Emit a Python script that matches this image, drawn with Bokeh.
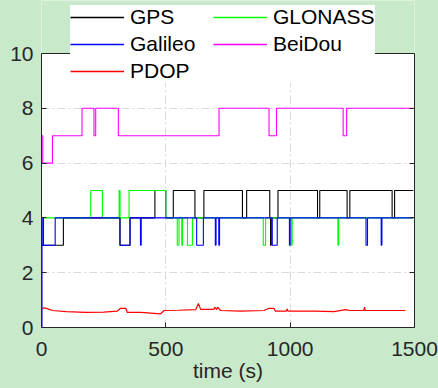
from bokeh.plotting import figure
from bokeh.models import (Legend, LegendItem, LinearAxis, FixedTicker, Range1d,
                          BoxAnnotation, Span)
from bokeh.embed import file_html
from bokeh.resources import INLINE

# ---- data ----
gps_t = [0, 88, 316, 356, 456, 500, 530, 617, 653, 808, 825, 918, 921, 924, 951, 1110, 1119, 1229, 1240, 1410, 1420, 1495]
gps_v = [3, 4, 3, 4, 5, 4, 5, 4, 5, 4, 5, 4, 3, 4, 5, 4, 5, 4, 5, 4, 5, 5]

glonass_t = [0, 198, 245, 312, 316, 352, 500, 546, 553, 564, 567, 587, 607, 892, 901, 1005, 1008, 1192, 1195, 1495]
glonass_v = [4, 5, 4, 5, 4, 5, 4, 3, 4, 3, 4, 3, 4, 3, 4, 3, 4, 3, 4, 4]

galileo_t = [0, 2, 5, 8, 55, 315, 356, 398, 401, 624, 651, 699, 702, 713, 716, 928, 948, 997, 1000, 1305, 1311, 1366, 1369, 1495]
galileo_v = [0, 3, 4, 3, 4, 3, 4, 3, 4, 3, 4, 3, 4, 3, 4, 3, 4, 3, 4, 3, 4, 3, 4, 4]

beidou_t = [0, 5, 44, 163, 211, 218, 309, 714, 915, 945, 1213, 1227, 1495]
beidou_v = [7, 6, 7, 8, 7, 8, 7, 8, 7, 8, 7, 8, 8]

pdop_t = [3, 10, 20, 44, 100, 178, 250, 305, 318, 339, 345, 400, 479, 493, 550, 620, 631, 640,
          693, 697, 704, 708, 720, 800, 895, 915, 935, 940, 985, 988, 991, 1100, 1176, 1223,
          1240, 1296, 1299, 1302, 1400, 1464]
pdop_v = [0.68, 0.72, 0.70, 0.62, 0.58, 0.55, 0.56, 0.60, 0.70, 0.70, 0.55, 0.55, 0.50, 0.62,
          0.63, 0.65, 0.88, 0.66, 0.66, 0.74, 0.66, 0.74, 0.62, 0.60, 0.62, 0.70, 0.70, 0.60,
          0.60, 0.68, 0.60, 0.60, 0.58, 0.65, 0.62, 0.62, 0.74, 0.62, 0.62, 0.62]

series_names = ["GPS", "GLONASS", "Galileo", "BeiDou", "PDOP"]
series_colors = ["#000000", "#00ff00", "#0000ff", "#ff00ff", "#ff0000"]

x_ticks = [0, 500, 1000, 1500]
y_ticks = [0, 2, 4, 6, 8, 10]
y_max = 10

BG = "#c8eacb"
AX = "#262626"
FONT = "Liberation Sans"
FS = "21px"

# frame: y=0 at 327px, y=10 at 53px -> extend the range up to the canvas top so the
# legend (which overlaps the box top in the reference) is not clipped
px_per_unit = (327 - 53) / 10.0
y_top = y_max + 53 / px_per_unit

p = figure(width=438, height=388, output_backend="svg", toolbar_location=None,
           x_range=Range1d(0, 1500), y_range=Range1d(0, y_top),
           min_border_left=41, min_border_right=24, min_border_top=0, min_border_bottom=61)
p.border_fill_color = BG
p.background_fill_color = "white"
p.outline_line_color = None

for ax in (p.xaxis[0], p.yaxis[0]):
    ax.major_tick_in = 5
    ax.major_tick_out = 0
    ax.minor_tick_line_color = None
    ax.axis_line_color = AX
    ax.major_tick_line_color = AX
    ax.major_label_text_font = FONT
    ax.major_label_text_font_size = FS
    ax.major_label_text_color = AX

p.xaxis[0].ticker = FixedTicker(ticks=x_ticks)
p.yaxis[0].ticker = FixedTicker(ticks=y_ticks)
p.yaxis[0].bounds = (0, y_max)
p.xaxis[0].major_label_standoff = 14
p.yaxis[0].major_label_standoff = 8
p.xaxis[0].axis_label = "time (s)"
p.xaxis[0].axis_label_text_font = FONT
p.xaxis[0].axis_label_text_font_size = FS
p.xaxis[0].axis_label_text_font_style = "normal"
p.xaxis[0].axis_label_text_color = AX
p.xaxis[0].axis_label_standoff = 0

right = LinearAxis(ticker=FixedTicker(ticks=y_ticks), bounds=(0, y_max),
                   major_tick_in=5, major_tick_out=0,
                   minor_tick_line_color=None, axis_line_color=AX, major_tick_line_color=AX,
                   major_label_overrides={t: "" for t in y_ticks}, major_label_standoff=0)
p.add_layout(right, "right")

for g in (p.xgrid[0], p.ygrid[0]):
    g.grid_line_color = "#d9d9d9"
    g.grid_line_dash = "8 3 2 3"
    g.grid_line_width = 1
p.xgrid[0].ticker = FixedTicker(ticks=x_ticks)
p.ygrid[0].ticker = FixedTicker(ticks=y_ticks)

p.step(gps_t, gps_v, mode="after", line_color=series_colors[0], line_width=1.1)
p.step(glonass_t, glonass_v, mode="after", line_color=series_colors[1], line_width=1.1)
p.step(galileo_t, galileo_v, mode="after", line_color=series_colors[2], line_width=1.1)
p.step(beidou_t, beidou_v, mode="after", line_color=series_colors[3], line_width=1.1)
p.line(pdop_t, pdop_v, line_color=series_colors[4], line_width=1.2)

# area above the axes box is page background; top edge of the box
p.add_layout(BoxAnnotation(bottom=y_max, fill_color=BG, fill_alpha=1.0, line_color=None))
p.add_layout(Span(location=y_max, dimension="width", line_color=AX, line_width=1))

# legend proxies (invisible one-point line renderers carrying each series' colour)
nan = float("nan")
proxies = {n: p.line(x=[nan], y=[nan], line_color=c, line_width=1.5)
           for n, c in zip(series_names, series_colors)}
order = ["GPS", "Galileo", "PDOP", "GLONASS", "BeiDou"]  # column-major: 2 columns
legend = Legend(items=[LegendItem(label=n, renderers=[proxies[n]]) for n in order],
                ncols=2, location=(29, 244), padding=12, margin=0, spacing=3,
                glyph_width=54, glyph_height=20, label_standoff=6, label_width=80,
                label_height=20, label_text_font=FONT, label_text_font_size=FS,
                label_text_color="black", border_line_color=None,
                background_fill_color="white", background_fill_alpha=1.0)
p.add_layout(legend, "center")

html = file_html(p, INLINE)
html = html.replace("<body>", '<body style="background-color:%s;">' % BG)
open("out.html", "w").write(html)
